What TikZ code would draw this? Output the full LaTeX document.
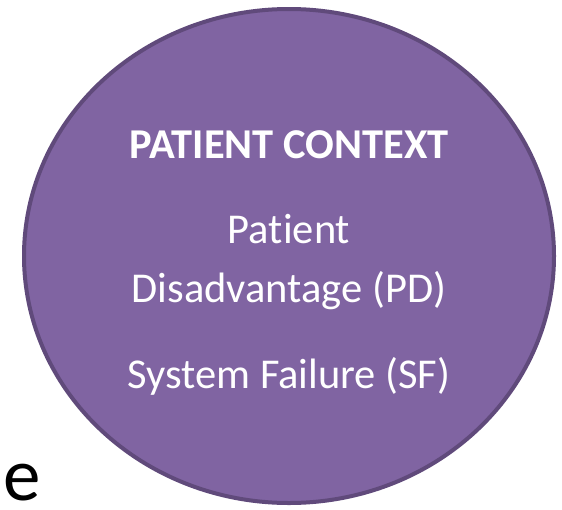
\documentclass[tikz,border=0pt]{standalone}
\usepackage{fontspec}
\setmainfont{Carlito}[Ligatures=NoCommon]
\definecolor{ctxfill}{HTML}{8064A2}
\definecolor{ctxline}{HTML}{604A7B}
\tikzset{
  ctxtext/.style={text=white, font=\fontsize{42.5}{50}\selectfont, anchor=base, inner sep=0pt},
}
\begin{document}
\begin{tikzpicture}[x=1pt, y=-1pt]
    % 畫布大小
    \useasboundingbox (0, 0) rectangle (562, 509);

    % 圓的中心
    \coordinate (O) at (289, 256);

    % 畫出圓
    \filldraw[fill=ctxfill, draw=ctxline, line width=4pt] (O) ellipse [x radius=265, y radius=247];

    % 文字
    \node[ctxtext, font=\fontsize{42.5}{50}\selectfont\bfseries] (title) at (289, 158) {PATIENT CONTEXT};
    \node[ctxtext] (pd1) at (289, 243) {Patient};
    \node[ctxtext] (pd2) at (289, 302) {Disadvantage (PD)};
    \node[ctxtext] (sf) at (289, 388) {System Failure (SF)};

    % 左下角的字母
    \node[anchor=base west, inner sep=0pt, font=\fontsize{75}{80}\selectfont] (e) at (3, 500) {e};
\end{tikzpicture}
\end{document}
